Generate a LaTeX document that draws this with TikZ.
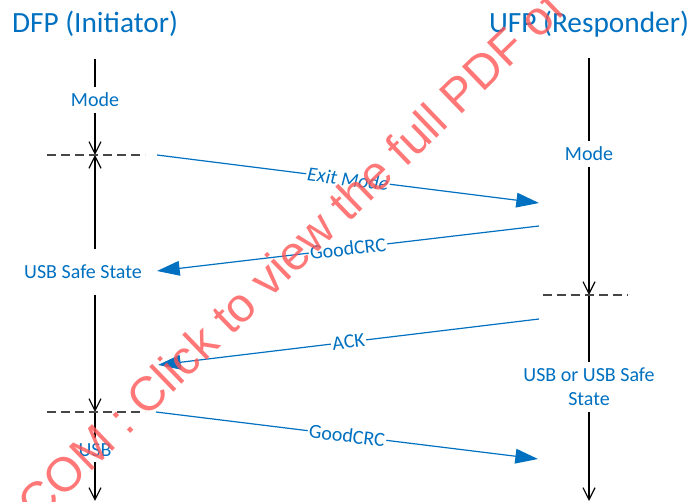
\documentclass[tikz,border=0pt]{standalone}
\usepackage{fontspec}
\setmainfont{Carlito}
\newfontfamily\markfont{Liberation Sans}
\usepackage{xcolor}
\usetikzlibrary{arrows.meta, positioning}

\definecolor{msgblue}{RGB}{0,112,192}
\definecolor{cutgray}{RGB}{70,70,70}
\definecolor{markred}{RGB}{255,85,85}

\begin{document}
\begin{tikzpicture}[
  x=0.75pt, y=-0.75pt,
  title/.style={anchor=base, text=msgblue, font=\fontsize{22}{26}\selectfont},
  state/.style={text=msgblue, align=center, inner xsep=2pt, inner ysep=4.2pt,
               font=\fontsize{15}{18}\selectfont},
  seg/.style={line width=0.9pt},
  life/.style={seg, -{Straight Barb[length=9pt, width=9pt]}},
  cut/.style={cutgray, line width=1.1pt, dash pattern=on 6.5pt off 4pt},
  msg/.style={msgblue, line width=0.9pt, -{Triangle[length=17pt, width=11pt]}},
  msglabel/.style={sloped, fill=white, inner sep=1pt, text=msgblue,
               font=\fontsize{15}{18}\selectfont},
  stamptext/.style={anchor=base west, rotate=44, text=markred, opacity=0.8,
               font=\markfont\fontsize{36}{40}\selectfont}
]
\useasboundingbox (0,0) rectangle (694,502);

% the two partners
\node[title] (dfp) at (95,33) {DFP (Initiator)};
\node[title] (ufp) at (589,33) {UFP (Responder)};

% DFP lifeline
\coordinate (l0) at (95,59);
\node[state] (modeL) at (95,100) {Mode};
\coordinate (l1) at (95,155);
\node[state, minimum height=34pt] (safeL) at (83,272) {USB Safe State};
\coordinate (l2) at (95,412);
\node[state] (usbL) at (95,450) {USB};
\coordinate (l3) at (95,501);

\draw[seg] (l0) -- (modeL);
\draw[life] (modeL) -- (l1);
\draw[life] (l1 |- safeL.north) -- (l1);
\draw[life] (l1 |- safeL.south) -- (l2);
\draw[seg] (l2) -- (usbL);
\draw[life] (usbL) -- (l3);
\draw[cut] (47,155) -- (145,155);
\draw[cut] (47,412) -- (145,412);

% UFP lifeline
\coordinate (r0) at (589,58);
\node[state] (modeR) at (589,154) {Mode};
\coordinate (r1) at (589,295);
\node[state] (usbR) at (589,387) {USB or USB Safe\\State};
\coordinate (r2) at (589,501);

\draw[seg] (r0) -- (modeR);
\draw[life] (modeR) -- (r1);
\draw[seg] (r1) -- (usbR);
\draw[life] (usbR) -- (r2);
\draw[cut] (543,295) -- (628,295);

% messages
\coordinate (exitA) at (157,155);
\coordinate (exitB) at (539,203);
\coordinate (crc1A) at (539,226);
\coordinate (crc1B) at (157,271);
\coordinate (ackA) at (539,319);
\coordinate (ackB) at (158,365);
\coordinate (crc2A) at (156,412);
\coordinate (crc2B) at (538,459);

\draw[msg] (exitA) -- node[msglabel] (exitlbl) {\itshape Exit Mode} (exitB);
\draw[msg] (crc1A) -- node[msglabel] (crc1lbl) {GoodCRC} (crc1B);
\draw[msg] (ackA) -- node[msglabel] (acklbl) {ACK} (ackB);
\draw[msg] (crc2A) -- node[msglabel] (crc2lbl) {GoodCRC} (crc2B);

% stamp across the page
\node[stamptext] (stamp) at (34,527) {COM : Click to view the full PDF of};
\end{tikzpicture}
\end{document}
